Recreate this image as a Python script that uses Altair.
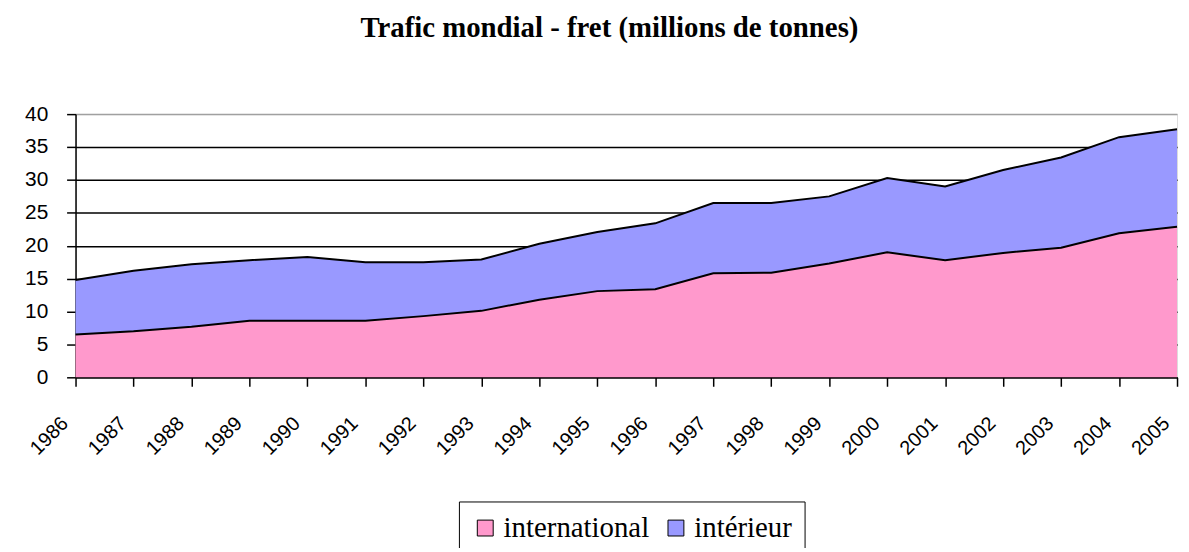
import altair as alt
import pandas as pd

years = list(range(1986, 2006))
international = [6.5, 7.0, 7.7, 8.6, 8.6, 8.6, 9.3, 10.1, 11.8, 13.1,
                 13.4, 15.8, 15.9, 17.3, 19.0, 17.8, 18.9, 19.7, 21.9, 22.9]
interieur = [8.3, 9.2, 9.5, 9.2, 9.7, 8.9, 8.2, 7.8, 8.5, 9.0,
             10.0, 10.7, 10.6, 10.2, 11.3, 11.2, 12.6, 13.7, 14.6, 14.8]
series = ["international", "intérieur"]
colors = ["#FF99CC", "#9999FF"]
y_ticks = [0, 5, 10, 15, 20, 25, 30, 35, 40]

df = pd.DataFrame({"annee": years, "international": international, "interieur": interieur})

base = alt.Chart(df).transform_fold(
    ["international", "interieur"], as_=["cle", "valeur"]
).transform_calculate(
    serie="datum.cle === 'international' ? 'international' : 'intérieur'",
    lo="datum.cle === 'international' ? 0 : datum.international",
    hi="datum.cle === 'international' ? datum.international : datum.international + datum.interieur",
)

xenc = alt.X(
    "annee:Q",
    scale=alt.Scale(domain=[1986, 2005], nice=False, zero=False),
    axis=alt.Axis(
        values=years, format="d", title=None, labelAngle=-45, labelAlign="right",
        labelBaseline="middle", labelPadding=34, labelOffset=-11, tickSize=9,
        tickColor="black", domainColor="black", tickWidth=1.5, domainWidth=1.5,
        labelFont="Liberation Sans", labelFontSize=20, labelColor="black",
        grid=False, labelOverlap=False, labelFlush=False, tickCount=20,
    ),
)
yscale = alt.Scale(domain=[0, 40], nice=False)
yaxis = alt.Axis(
    values=y_ticks, title=None, tickSize=9, tickColor="black", tickWidth=1.5,
    domainColor="black", domainWidth=1.5, labelPadding=19, labelOverlap=False,
    labelFont="Liberation Sans", labelFontSize=21, labelColor="black", tickCount=9,
    grid=True, gridColor={"condition": {"test": "datum.value === 40", "value": "#a0a0a0"}, "value": "black"},
    gridWidth=1.5,
)

areas = base.mark_area(opacity=1).encode(
    x=xenc,
    y=alt.Y("hi:Q", scale=yscale, axis=yaxis),
    y2="lo:Q",
    color=alt.Color(
        "serie:N",
        scale=alt.Scale(domain=series, range=colors),
        legend=alt.Legend(
            title=None, orient="none", legendX=386, legendY=390, direction="horizontal",
            strokeColor="black", fillColor="white", padding=12, symbolType="square",
            symbolSize=256, symbolStrokeColor="black", symbolStrokeWidth=1,
            labelFont="Liberation Serif", labelFontSize=29, labelColor="black",
            columnPadding=12, symbolOpacity=1, labelOffset=4,
        ),
    ),
)

lines = base.mark_line(color="black", strokeWidth=2).encode(
    x=alt.X("annee:Q"),
    y=alt.Y("hi:Q"),
    detail="serie:N",
)

chart = alt.layer(areas, lines).properties(
    width=1109,
    height=265,
    title=alt.TitleParams(
        "Trafic mondial - fret (millions de tonnes)", font="Liberation Serif",
        fontSize=29, fontWeight="bold", color="black", anchor="middle", dx=-17, offset=61,
    ),
    autosize=alt.AutoSizeParams(type="none"),
    padding={"left": 68, "top": 105, "right": 4, "bottom": 170},
).configure_view(stroke=None).configure(background="white")

chart.save("out.html", embed_options={"renderer": "svg", "actions": False})
